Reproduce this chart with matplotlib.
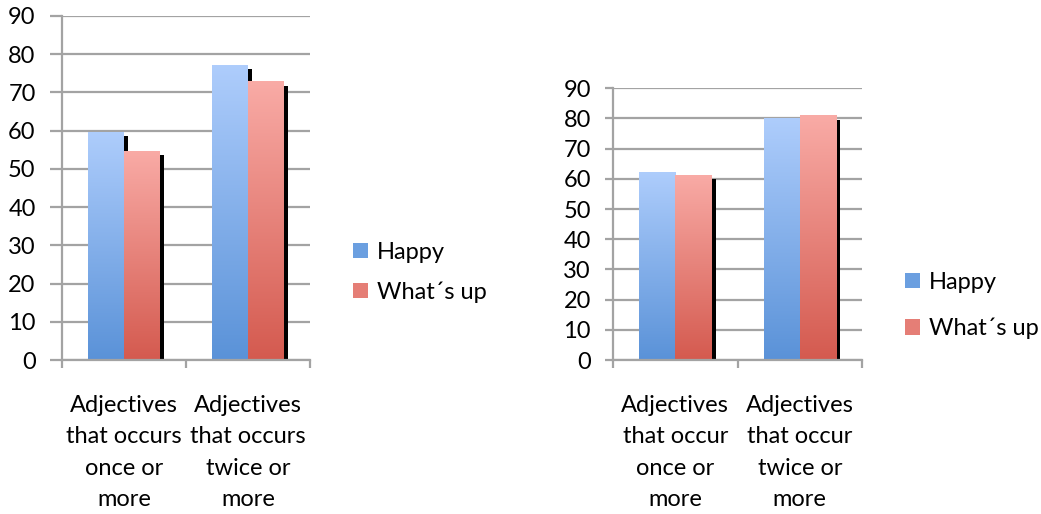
import numpy as np
import matplotlib
matplotlib.use('Agg')
import matplotlib.pyplot as plt
import matplotlib.patheffects as pe
from matplotlib.patches import Patch

plt.rcParams['font.family'] = ['Lato', 'DejaVu Sans']

# data
series = ["Happy", "What\u00b4s up"]
labels_left = ["Adjectives\nthat occurs\nonce or\nmore", "Adjectives\nthat occurs\ntwice or\nmore"]
labels_right = ["Adjectives\nthat occur\nonce or\nmore", "Adjectives\nthat occur\ntwice or\nmore"]
happy_left = [59.7, 77.1]
whatsup_left = [54.7, 72.9]
happy_right = [62.3, 80.0]
whatsup_right = [61.4, 81.0]
yticks = list(range(0, 100, 10))

BLUE = ('#aecdfc', '#5a92d8')
RED = ('#f9aba6', '#d45a4f')
GRID = '#a3a3a3'
FS = 17


def gradient_bars(ax, x, vals, cols):
    bars = ax.bar(x, vals, width=0.29, color=cols[1], zorder=2,
                  path_effects=[pe.SimplePatchShadow(offset=(3, -3), shadow_rgbFace='k', alpha=1.0),
                                pe.Normal()])
    grad = np.linspace(0, 1, 256).reshape(-1, 1)
    cmap = matplotlib.colors.LinearSegmentedColormap.from_list('g', [cols[1], cols[0]])
    for b in bars:
        x0, y0 = b.get_x(), b.get_y()
        im = ax.imshow(grad, extent=(x0, x0 + b.get_width(), y0, y0 + b.get_height()),
                       origin='lower', cmap=cmap, aspect='auto', zorder=2.5)
        im.set_clip_path(b)
    return bars


def draw_chart(ax, labels, happy, whatsup, tick_len):
    x = np.arange(len(labels))
    gradient_bars(ax, x - 0.145, happy, BLUE)
    gradient_bars(ax, x + 0.145, whatsup, RED)
    ax.set_xlim(-0.5, len(labels) - 0.5)
    ax.set_ylim(0, 90)
    ax.set_yticks(yticks)
    ax.set_yticklabels([str(t) for t in yticks], fontsize=FS)
    ax.yaxis.grid(True, color=GRID, lw=1.6, zorder=0)
    ax.set_axisbelow(True)
    ax.set_xticks(x)
    ax.set_xticklabels(labels, fontsize=FS, linespacing=1.62)
    ax.set_xticks(np.arange(len(labels) + 1) - 0.5, minor=True)
    ax.tick_params(axis='x', which='major', length=0, pad=25)
    ax.tick_params(axis='x', which='minor', length=6, width=1.6, color=GRID)
    ax.tick_params(axis='y', length=tick_len, width=1.6, color=GRID, pad=10)
    for s in ('top', 'right'):
        ax.spines[s].set_visible(False)
    for s in ('left', 'bottom'):
        ax.spines[s].set_color(GRID)
        ax.spines[s].set_linewidth(1.6)


fig = plt.figure(figsize=(10.41, 5.14), dpi=100)
ax1 = fig.add_axes([0.0596, 0.2996, 0.2382, 0.6693])
ax2 = fig.add_axes([0.5889, 0.2996, 0.2392, 0.5286])

draw_chart(ax1, labels_left, happy_left, whatsup_left, 9)
draw_chart(ax2, labels_right, happy_right, whatsup_right, 6)

handles = [Patch(facecolor='#6b9fe0'), Patch(facecolor='#e57e76')]
ax1.legend(handles, series, loc='center left', bbox_to_anchor=(1.173, 0.255),
           frameon=False, fontsize=FS, borderpad=0, borderaxespad=0,
           handlelength=0.62, handleheight=0.62, handletextpad=0.4, labelspacing=0.8)
ax2.legend(handles, series, loc='center left', bbox_to_anchor=(1.173, 0.2),
           frameon=False, fontsize=FS, borderpad=0, borderaxespad=0,
           handlelength=0.62, handleheight=0.62, handletextpad=0.4, labelspacing=1.05)

fig.savefig('out.png', dpi=100)
